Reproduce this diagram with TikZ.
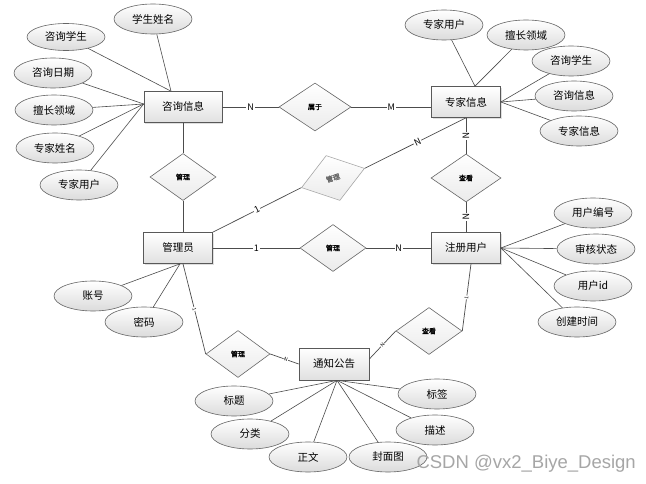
\documentclass[tikz,border=0pt]{standalone}
\usepackage{fontspec}
\setmainfont{Noto Sans CJK SC}
\newfontfamily\relfont[FakeBold=1.5]{Noto Sans CJK SC}
\newfontfamily\wmfont{Liberation Sans}
\usetikzlibrary{shapes.geometric,shadows}

\begin{document}
\begin{tikzpicture}[
	x=1pt,
	y=-1pt,
	entity/.style={rectangle, draw=black!65, line width=0.7pt, top color=white, bottom color=black!12, minimum width=69pt, minimum height=31pt, inner sep=0pt, font=\fontsize{10.5}{12}\selectfont, drop shadow={shadow xshift=1.2pt, shadow yshift=-1.2pt, opacity=0.25}},
	attr/.style={ellipse, draw=black!60, line width=0.6pt, top color=white, bottom color=black!14, minimum width=78pt, minimum height=30pt, inner sep=0pt, font=\fontsize{10.5}{12}\selectfont},
	rel/.style={diamond, draw=black!60, line width=0.6pt, top color=white, bottom color=black!8, minimum width=66pt, minimum height=47pt, inner sep=0pt, font=\relfont\fontsize{7}{8}\selectfont},
	link/.style={draw=black!70, line width=0.7pt},
	attrlink/.style={draw=black!70, line width=0.6pt},
	card/.style={font=\fontsize{9}{10}\selectfont, fill=white, inner sep=0.8pt, sloped},
	tinycard/.style={font=\fontsize{5}{6}\selectfont, fill=white, inner sep=0.5pt, sloped}
	]
	\fill[white] (0,0) rectangle (646,484);
	\useasboundingbox (0,0) rectangle (646,484);

	\node[entity, minimum width=78pt] (zx) at (183,107) {咨询信息};
	\node[entity] (zj) at (466,102) {专家信息};
	\node[entity] (gly) at (178,248) {管理员};
	\node[entity] (zc) at (466,248) {注册用户};
	\node[entity, minimum width=70pt, minimum height=32pt] (tz) at (334,364) {通知公告};

	\node[rel] (gl1) at (183,177) {管理};
	\node[rel, minimum width=72pt, minimum height=48pt] (sy) at (315,107) {属于};
	\node[rel, draw=black!35, text=black!60, rotate=17] (gl2) at (333,178) {管理};
	\node[rel] (gl3) at (333,248) {管理};
	\node[rel, minimum width=70pt, minimum height=48pt] (ck1) at (466,178) {查看};
	\node[rel] (ck2) at (429,331) {查看};
	\node[rel, minimum width=64pt] (gl4) at (238,354) {管理};

	\node[attr] (xsxm) at (153,19) {学生姓名};
	\node[attr, minimum height=27pt] (zxxs1) at (66,37) {咨询学生};
	\node[attr] (zxrq) at (53,73) {咨询日期};
	\node[attr] (scly1) at (54,110) {擅长领域};
	\node[attr] (zjxm) at (55,148) {专家姓名};
	\node[attr] (zjyh1) at (79,185) {专家用户};

	\node[attr] (zjyh2) at (444,25) {专家用户};
	\node[attr] (scly2) at (526,35) {擅长领域};
	\node[attr] (zxxs2) at (571,61) {咨询学生};
	\node[attr] (zxxx2) at (574,96) {咨询信息};
	\node[attr] (zjxx2) at (579,131) {专家信息};

	\node[attr] (yhbh) at (593,213) {用户编号};
	\node[attr] (shzt) at (596,249) {审核状态};
	\node[attr] (yhid) at (593,286) {用户id};
	\node[attr] (cjsj) at (577,322) {创建时间};

	\node[attr] (zh) at (93,296) {账号};
	\node[attr] (mm) at (144,322) {密码};

	\node[attr] (bt) at (234,401) {标题};
	\node[attr] (fl) at (250,434) {分类};
	\node[attr] (zw) at (308,457) {正文};
	\node[attr] (fmt) at (388,457) {封面图};
	\node[attr] (ms) at (435,430) {描述};
	\node[attr] (bq) at (437,394) {标签};

	\draw[link] (zx.east) -- (sy.west) node[card, midway] {N};
	\draw[link] (sy.east) -- (sy.east -| zj.west) node[card, midway] {M};
	\draw[link] (zx.south) -- (gl1.north);
	\draw[link] (gl1.south) -- (gl1.south |- gly.north);
	\draw[link] (gly.north east) -- (gl2.west) node[card, midway] {1};
	\draw[link] (gl2.east) -- (zj.south) node[card, pos=0.52] {N};
	\draw[link] (zj.south) -- (ck1.north) node[card, midway] {N};
	\draw[link] (ck1.south) -- (zc.north) node[card, midway] {N};
	\draw[link] (gly.east) -- (gl3.west) node[card, midway] {1};
	\draw[link] (gl3.east) -- (zc.west) node[card, midway] {N};
	\draw[link] ([xshift=5pt]zc.south) -- (ck2.east) node[tinycard, midway] {1};
	\draw[link] (ck2.west) -- ([yshift=5pt]tz.east) node[tinycard, midway] {N};
	\draw[link] ([xshift=5pt]gly.south) -- (gl4.west) node[tinycard, midway] {1};
	\draw[link] (gl4.east) -- (tz.west) node[tinycard, pos=0.55] {N};

	\draw[attrlink] (xsxm) -- ([xshift=-12pt]zx.north);
	\draw[attrlink] (zxxs1) -- ([xshift=-12pt]zx.north);
	\draw[attrlink] (zxrq) -- ([yshift=3pt]zx.west);
	\draw[attrlink] (scly1) -- ([yshift=3pt]zx.west);
	\draw[attrlink] (zjxm) -- ([yshift=3pt]zx.west);
	\draw[attrlink] (zjyh1) -- ([yshift=3pt]zx.west);

	\draw[attrlink] (zjyh2) -- ([xshift=9pt]zj.north);
	\draw[attrlink] (scly2) -- ([xshift=9pt]zj.north);
	\draw[attrlink] (zxxs2) -- (zj.east);
	\draw[attrlink] (zxxx2) -- (zj.east);
	\draw[attrlink] (zjxx2) -- (zj.east);

	\draw[attrlink] (yhbh) -- (zc.east);
	\draw[attrlink] (shzt) -- (zc.east);
	\draw[attrlink] (yhid) -- (zc.east);
	\draw[attrlink] (cjsj) -- (zc.east);

	\draw[attrlink] (zh) -- ([xshift=2pt]gly.south);
	\draw[attrlink] (mm) -- ([xshift=2pt]gly.south);

	\draw[attrlink] (bt) -- ([xshift=3pt]tz.south);
	\draw[attrlink] (fl) -- ([xshift=3pt]tz.south);
	\draw[attrlink] (zw) -- ([xshift=3pt]tz.south);
	\draw[attrlink] (fmt) -- ([xshift=3pt]tz.south);
	\draw[attrlink] (ms) -- ([xshift=3pt]tz.south);
	\draw[attrlink] (bq) -- ([xshift=3pt]tz.south);

	\node[font=\wmfont\fontsize{18.5}{21}\selectfont, text=black!35, anchor=west] (wm) at (413,464) {CSDN @vx2\_Biye\_Design};
\end{tikzpicture}
\end{document}
